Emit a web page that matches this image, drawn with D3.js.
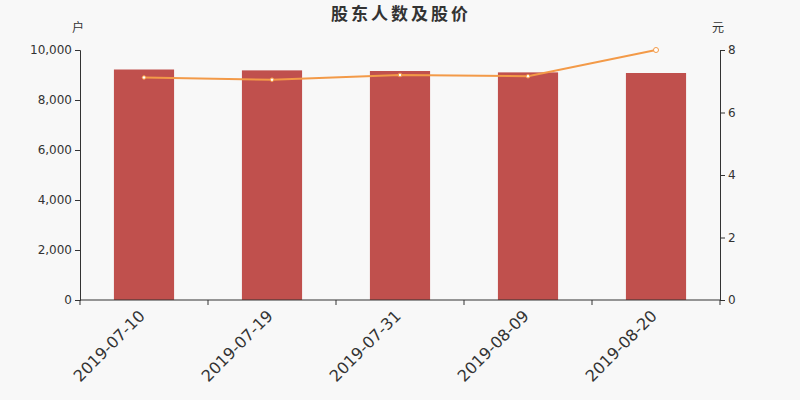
<!DOCTYPE html>
<html>
<head>
<meta charset="utf-8">
<script src="https://cdn.jsdelivr.net/npm/d3@7"></script>
<style>
  body { margin: 0; background: #f8f8f8; }
  svg { display: block; font-family: "DejaVu Sans", "Noto Sans CJK SC", sans-serif; }
</style>
</head>
<body>
<svg id="chart" width="800" height="400"></svg>
<script>
// data
let dates = ["2019-07-10", "2019-07-19", "2019-07-31", "2019-08-09", "2019-08-20"];
let holders = [9220, 9185, 9160, 9105, 9080];
let prices = [7.12, 7.05, 7.20, 7.16, 8.00];
let leftTicks = [0, 2000, 4000, 6000, 8000, 10000];
let rightTicks = [0, 2, 4, 6, 8];

let width = 800,
    height = 400,
    margin = {top: 50, right: 80, bottom: 100, left: 80};

let svg = d3.select("#chart");
svg.append("rect").attr("width", width).attr("height", height).attr("fill", "#f8f8f8");

let x = d3.scaleBand()
    .domain(dates)
    .range([margin.left, width - margin.right]);

let yLeft = d3.scaleLinear()
    .domain([0, 10000])
    .range([height - margin.bottom, margin.top]);

let yRight = d3.scaleLinear()
    .domain([0, 8])
    .range([height - margin.bottom, margin.top]);

let barW = x.bandwidth() * 0.47;

// bars
svg.append("g").selectAll("rect")
    .data(holders)
    .join("rect")
    .attr("x", (d, i) => x(dates[i]) + x.bandwidth() / 2 - barW / 2)
    .attr("y", d => yLeft(d))
    .attr("width", barW)
    .attr("height", d => yLeft(0) - yLeft(d))
    .attr("fill", "#c0504d");

// left axis
let gl = svg.append("g")
    .attr("transform", `translate(${margin.left},0)`)
    .call(d3.axisLeft(yLeft).tickValues(leftTicks).tickFormat(d3.format(",")).tickSize(5).tickPadding(3));

// right axis
let gr = svg.append("g")
    .attr("transform", `translate(${width - margin.right},0)`)
    .call(d3.axisRight(yRight).tickValues(rightTicks).tickSize(5).tickPadding(3));

// x axis, ticks on band boundaries
let gx = svg.append("g")
    .attr("transform", `translate(0,${height - margin.bottom})`);
gx.append("line")
    .attr("x1", margin.left).attr("x2", width - margin.right)
    .attr("stroke", "#333");
gx.selectAll(".tk")
    .data(dates.concat([null]))
    .join("line")
    .attr("class", "tk")
    .attr("x1", (d, i) => i < dates.length ? x(d) : x(dates[dates.length - 1]) + x.bandwidth())
    .attr("x2", (d, i) => i < dates.length ? x(d) : x(dates[dates.length - 1]) + x.bandwidth())
    .attr("y1", 0).attr("y2", 5)
    .attr("stroke", "#333");
gx.selectAll("text")
    .data(dates)
    .join("text")
    .attr("transform", d => `translate(${x(d) + x.bandwidth() / 2 - 2},13) rotate(-45)`)
    .attr("text-anchor", "end")
    .attr("dy", "0.35em")
    .attr("fill", "#333")
    .attr("font-size", 16)
    .text(d => d);

// axis() puts sans-serif on the group, drop it so DejaVu is used
[gl, gr].forEach(g => {
    g.attr("font-family", null);
    g.select(".domain").attr("stroke", "#333");
    g.selectAll(".tick line").attr("stroke", "#333");
    g.selectAll(".tick text").attr("fill", "#333").attr("font-size", 12);
});

// price line
let line = d3.line()
    .x((d, i) => x(dates[i]) + x.bandwidth() / 2)
    .y(d => yRight(d));

svg.append("path")
    .datum(prices)
    .attr("d", line)
    .attr("fill", "none")
    .attr("stroke", "#f39a48")
    .attr("stroke-width", 2);

svg.append("g").selectAll("circle")
    .data(prices)
    .join("circle")
    .attr("cx", (d, i) => x(dates[i]) + x.bandwidth() / 2)
    .attr("cy", d => yRight(d))
    .attr("r", (d, i) => i == prices.length - 1 ? 2.5 : 1.8)
    .attr("fill", "#fff")
    .attr("stroke", "#f39a48")
    .attr("stroke-width", 1);

// title and units
svg.append("text")
    .attr("x", width / 2 + 1).attr("y", 20)
    .attr("text-anchor", "middle")
    .attr("font-size", 17)
    .attr("font-weight", "bold")
    .attr("letter-spacing", "3px")
    .attr("fill", "#333")
    .text("股东人数及股价");

svg.append("text")
    .attr("x", margin.left - 2).attr("y", 32)
    .attr("text-anchor", "middle")
    .attr("font-size", 12)
    .attr("fill", "#333")
    .text("户");

svg.append("text")
    .attr("x", width - margin.right - 2).attr("y", 32)
    .attr("text-anchor", "middle")
    .attr("font-size", 12)
    .attr("fill", "#333")
    .text("元");
</script>
</body>
</html>
